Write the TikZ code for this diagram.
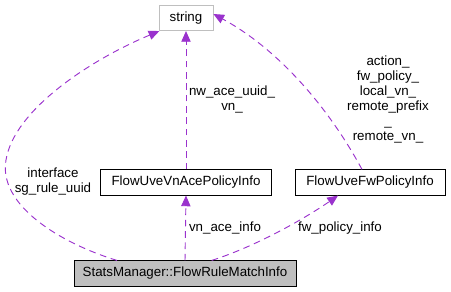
\documentclass[tikz,border=0pt]{standalone}
\usepackage{fontspec}
\setmainfont{Liberation Sans}
\usetikzlibrary{arrows.meta}
\definecolor{edgepurple}{HTML}{9A32CD}
\definecolor{boxgray}{HTML}{BFBFBF}
\definecolor{lightborder}{HTML}{BFBFBF}
\begin{document}
\begin{tikzpicture}[x=0.75pt,y=-0.75pt,
  every node/.style={font=\fontsize{10}{11.25}\selectfont},
  classbox/.style={draw=black,line width=0.6pt,minimum height=19pt,inner xsep=4pt,inner ysep=0pt},
  extbox/.style={draw=lightborder,line width=0.6pt,minimum height=19pt,inner xsep=5pt,inner ysep=0pt},
  mainbox/.style={classbox,fill=boxgray},
  uses/.style={draw=edgepurple,dashed,dash pattern=on 5pt off 3.5pt,line width=0.7pt,
    -{Triangle[length=8pt,width=7pt,fill=edgepurple]}},
  lbl/.style={align=center,inner sep=0pt,font=\fontsize{10}{11.25}\selectfont}]
\useasboundingbox (0,0) rectangle (451,292);

\node[extbox,minimum width=40.5pt] (str) at (186,18) {string};
\node[classbox,minimum width=128pt] (ace) at (186,182.5) {FlowUveVnAcePolicyInfo};
\node[classbox,minimum width=112.5pt] (fw) at (370,182.5) {FlowUveFwPolicyInfo};
\node[mainbox,minimum width=166.5pt] (rm) at (185,273.5) {StatsManager::FlowRuleMatchInfo};

% members of type string
\draw[uses] ([xshift=-51pt]rm.north) .. controls (60,243) and (-2,205) .. (6,160)
  .. controls (14,110) and (90,60) .. ([xshift=-20pt]str.south);
\draw[uses] (ace.north) -- (str.south);
\draw[uses] ([xshift=-6pt]fw.north) .. controls (330,110) and (280,50) .. ([yshift=3pt]str.east);

% members of class type
\draw[uses] (rm.north) -- (ace.south);
\draw[uses] ([xshift=20pt]rm.north) .. controls (260,245) and (310,215) .. ([xshift=-24pt]fw.south);

\node[lbl] (l1) at (53,181.5) {interface\\sg\_rule\_uuid};
\node[lbl] (l2) at (232,99.5) {nw\_ace\_uuid\_\\vn\_};
\node[lbl] (l3) at (388,99) {action\_\\fw\_policy\_\\local\_vn\_\\remote\_prefix\\\_\\remote\_vn\_};
\node[lbl] (l4) at (225,228) {vn\_ace\_info};
\node[lbl] (l5) at (340,228) {fw\_policy\_info};
\end{tikzpicture}
\end{document}
